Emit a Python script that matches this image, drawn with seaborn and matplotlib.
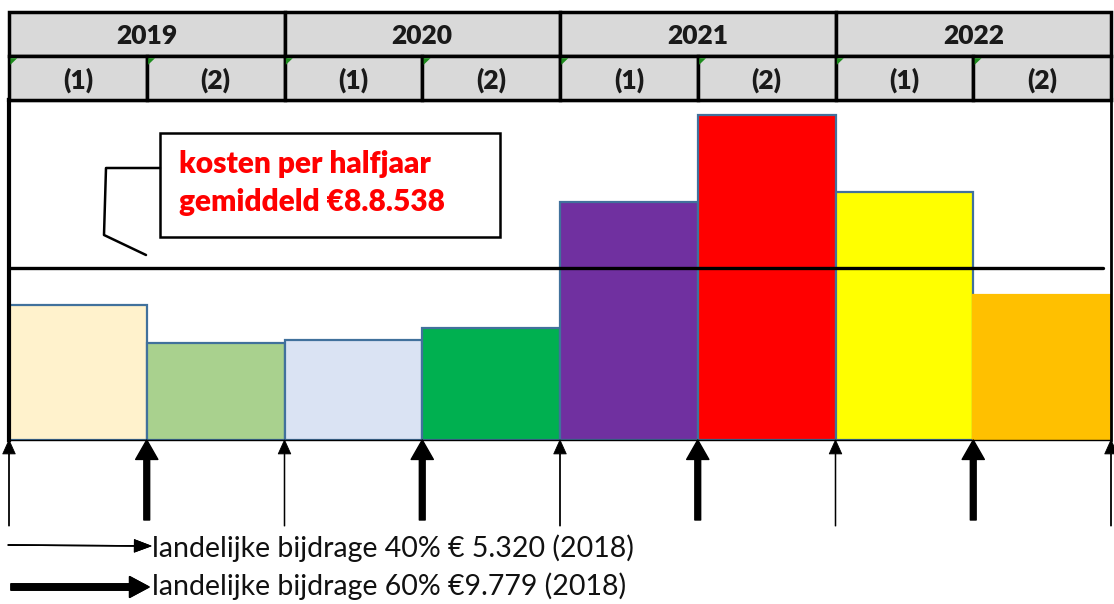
import matplotlib
matplotlib.use("Agg")
import matplotlib.pyplot as plt
import seaborn as sns
from matplotlib.patches import Rectangle, Polygon
from matplotlib.lines import Line2D

# data (euro per half year)
periods = ['2019 (1)', '2019 (2)', '2020 (1)', '2020 (2)',
           '2021 (1)', '2021 (2)', '2022 (1)', '2022 (2)']
kosten = [6700, 4810, 4960, 5560, 11810, 16130, 12300, 7200]
bar_colors = ['#fff2cc', '#a9d18e', '#dae3f3', '#00b050',
              '#7030a0', '#ff0000', '#ffff00', '#ffc000']
years = ['2019', '2020', '2021', '2022']
halves = ['(1)', '(2)']
gemiddeld = 8538
callout = 'kosten per halfjaar\ngemiddeld €8.8.538'
legend_40 = 'landelijke bijdrage 40% € 5.320 (2018)'
legend_60 = 'landelijke bijdrage 60% €9.779 (2018)'

W, H = 1114, 604


def px(x, y):
    # pixel position (from top-left) -> figure fraction
    return x / W, 1 - y / H


sns.set_theme(style='white')
plt.rcParams['font.family'] = ['Lato', 'DejaVu Sans']

fig = plt.figure(figsize=(W / 100, H / 100), dpi=100)

# main bar area
x0, y_top = px(9, 100)
x1, y_bot = px(1111, 440)
ax = fig.add_axes([x0, y_bot, x1 - x0, y_top - y_bot])
sns.barplot(x=periods, y=kosten, hue=periods, palette=bar_colors, width=1,
            saturation=1, edgecolor='#41719c', linewidth=1.6, legend=False, ax=ax)
ax.patches[-1].set_edgecolor(bar_colors[-1])
ax.set_xlim(-0.5, len(periods) - 0.5)
ax.set_ylim(0, 16870)
ax.set_xticks([])
ax.set_yticks([])
ax.set_xlabel('')
ax.set_ylabel('')
for side, lw in [('left', 3), ('right', 2), ('top', 3), ('bottom', 1)]:
    ax.spines[side].set_visible(True)
    ax.spines[side].set_color('black')
    ax.spines[side].set_linewidth(lw)

# average line
ax.axhline(gemiddeld, xmin=0, xmax=0.993, color='black', lw=2.4)

# arrows below the bars at every half-year boundary
for i in range(len(periods) + 1):
    b = i - 0.5
    if i % 2 == 1:
        ax.annotate('', xy=(b, 0), xycoords='data',
                    xytext=(0, -80), textcoords='offset pixels',
                    arrowprops=dict(width=4.2, headwidth=16, headlength=14,
                                    facecolor='black', edgecolor='black'),
                    annotation_clip=False)
    else:
        ax.annotate('', xy=(b, 0), xycoords='data',
                    xytext=(0, -86), textcoords='offset pixels',
                    arrowprops=dict(width=0.5, headwidth=9, headlength=10,
                                    facecolor='black', edgecolor='black', lw=0.6),
                    annotation_clip=False)

# header table
hx0, hy_top = px(9, 12)
hx1, hy_bot = px(1111, 100)
hax = fig.add_axes([hx0, hy_bot, hx1 - hx0, hy_top - hy_bot])
hax.set_xlim(-0.5, len(periods) - 0.5)
hax.set_ylim(0, 2)
hax.axis('off')
for j, yr in enumerate(years):
    left = 2 * j - 0.5
    hax.add_patch(Rectangle((left, 1), 2, 1, facecolor='#d9d9d9',
                            edgecolor='black', lw=2.5, clip_on=False))
    hax.text(left + 1, 1.45, yr, ha='center', va='center',
             fontsize=19, fontweight='heavy', color='#1a1a1a')
    for k, h in enumerate(halves):
        l2 = left + k
        hax.add_patch(Rectangle((l2, 0), 1, 1, facecolor='#d9d9d9',
                                edgecolor='black', lw=2.5, clip_on=False))
        hax.add_patch(Polygon([(l2 + 0.01, 0.95), (l2 + 0.06, 0.95),
                               (l2 + 0.01, 0.8)], closed=True,
                              facecolor='#1e8c1e', edgecolor='none'))
        hax.text(l2 + 0.5, 0.45, h, ha='center', va='center',
                 fontsize=19, fontweight='heavy', color='#1a1a1a')

# callout box with connector
bx0, by0 = px(160, 237)
bx1, by1 = px(500, 133)
fig.add_artist(Rectangle((bx0, by0), bx1 - bx0, by1 - by0, transform=fig.transFigure,
                         facecolor='white', edgecolor='black', lw=1.8))
fig.text(*px(179, 183), callout, color='#ff0000', fontsize=21.5, fontweight='heavy',
         ha='left', va='center', linespacing=1.42)
conn = [px(160, 168), px(106, 168), px(104, 235), px(146, 255)]
fig.add_artist(Line2D([p[0] for p in conn], [p[1] for p in conn],
                      transform=fig.transFigure, color='black', lw=1.8))

# legend arrows + text
fig.add_artist(plt.annotate('', xy=px(151, 546), xycoords='figure fraction',
                            xytext=px(8, 545), textcoords='figure fraction',
                            arrowprops=dict(width=0.5, headwidth=9, headlength=12,
                                            facecolor='black', edgecolor='black', lw=0.6)))
fig.text(*px(152, 548), legend_40, fontsize=20.5, ha='left', va='center', color='#111111')
fig.add_artist(plt.annotate('', xy=px(149, 587), xycoords='figure fraction',
                            xytext=px(11, 587), textcoords='figure fraction',
                            arrowprops=dict(width=4.5, headwidth=15, headlength=14,
                                            facecolor='black', edgecolor='black')))
fig.text(*px(152, 586), legend_60, fontsize=20.5, ha='left', va='center', color='#111111')

fig.savefig('out.png', dpi=100, facecolor='white')
